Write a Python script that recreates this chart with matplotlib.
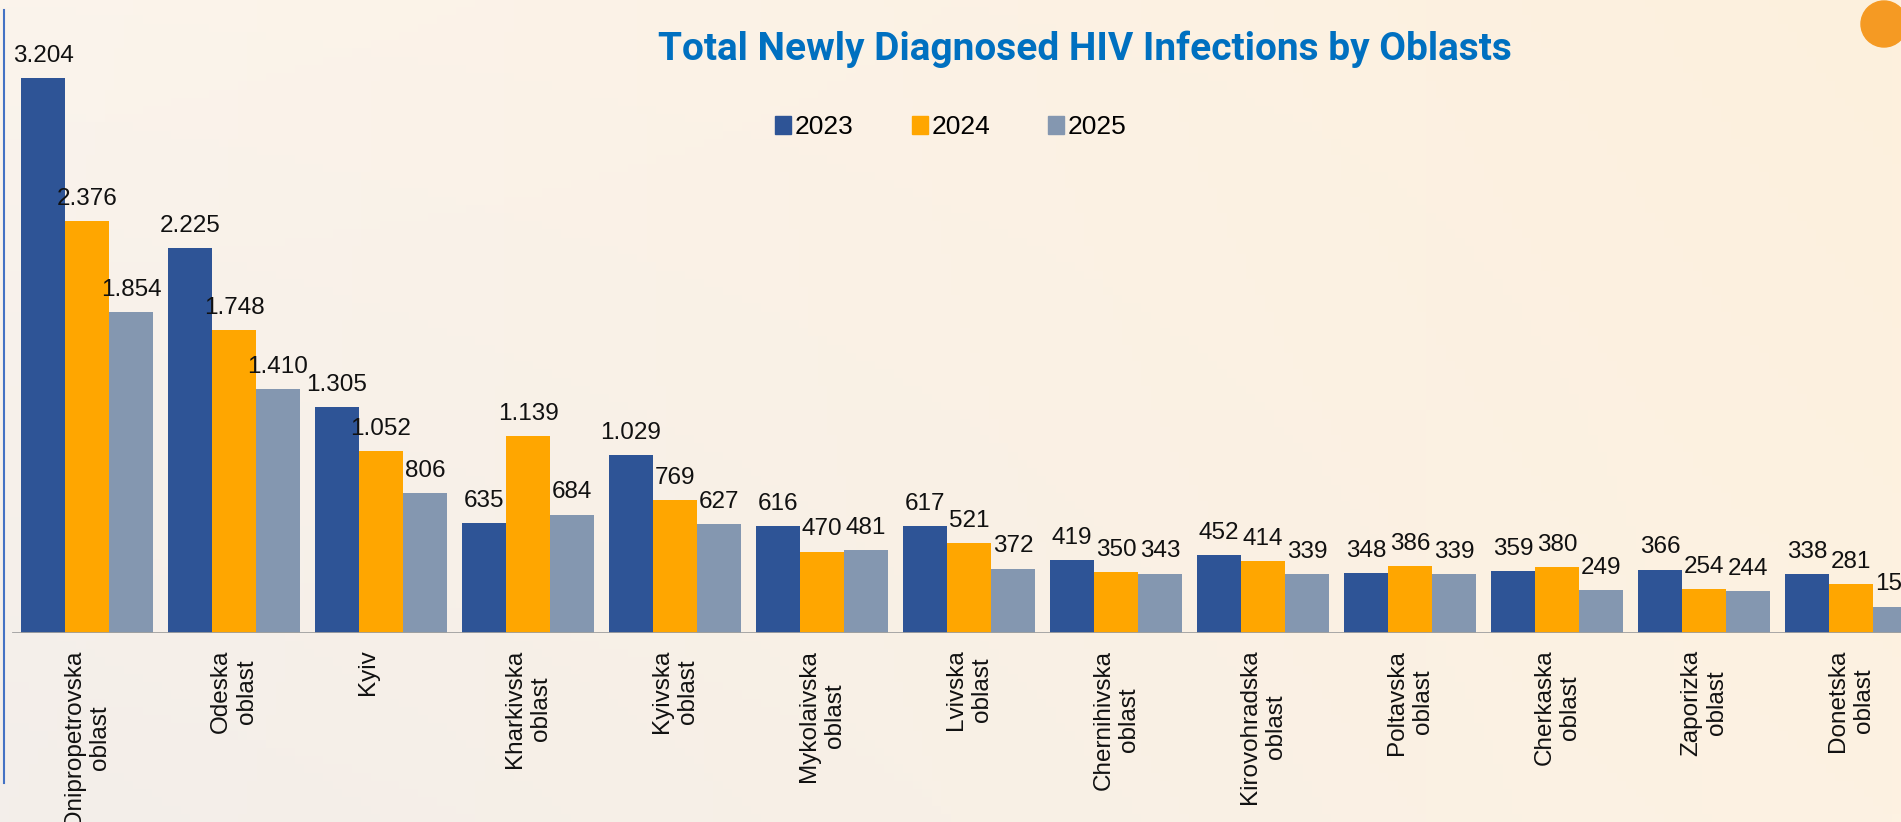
import numpy as np
import matplotlib
matplotlib.use('Agg')
import matplotlib.pyplot as plt
from matplotlib.lines import Line2D
from matplotlib.patches import Patch, Ellipse
from matplotlib.colors import to_rgb

# data
oblasts = ['Dnipropetrovska\noblast', 'Odeska\noblast', 'Kyiv\n', 'Kharkivska\noblast',
           'Kyivska\noblast', 'Mykolaivska\noblast', 'Lvivska\noblast', 'Chernihivska\noblast',
           'Kirovohradska\noblast', 'Poltavska\noblast', 'Cherkaska\noblast',
           'Zaporizka\noblast', 'Donetska\noblast']
years = ['2023', '2024', '2025']
v2023 = [3204, 2225, 1305, 635, 1029, 616, 617, 419, 452, 348, 359, 366, 338]
v2024 = [2376, 1748, 1052, 1139, 769, 470, 521, 350, 414, 386, 380, 254, 281]
v2025 = [1854, 1410, 806, 684, 627, 481, 372, 343, 339, 339, 249, 244, 153]
colors = ['#2E5496', '#FFA600', '#8497B0']

plt.rcParams['font.family'] = ['Liberation Sans', 'DejaVu Sans']

W, H = 1901, 822
fig = plt.figure(figsize=(W / 100, H / 100), dpi=100)

# background gradient
bg = fig.add_axes([0, 0, 1, 1], zorder=-5)
tl, tr = np.array(to_rgb('#FBF4EC')), np.array(to_rgb('#FDF0DD'))
bl, br = np.array(to_rgb('#F3EEEA')), np.array(to_rgb('#FDF2E2'))
gx = np.linspace(0, 1, 200)[None, :, None]
gy = np.linspace(0, 1, 100)[:, None, None]
img = (1 - gy) * ((1 - gx) * tl + gx * tr) + gy * ((1 - gx) * bl + gx * br)
bg.imshow(img, aspect='auto', extent=[0, 1, 0, 1])
bg.axis('off')

# main axes
ax = fig.add_axes([0, (H - 633) / H, 1, 633 / H])
ax.set_facecolor('none')
x = np.arange(len(oblasts))
w = 44 / 147
for k, (vals, c, yr) in enumerate(zip([v2023, v2024, v2025], colors, years)):
    bars = ax.bar(x + (k - 1) * w, vals, width=w, color=c, label=yr, zorder=2)
    for b, v in zip(bars, vals):
        ax.annotate(f'{v:,}'.replace(',', '.'), (b.get_x() + b.get_width() / 2, v),
                    xytext=(0, 8), textcoords='offset points', ha='center', va='bottom',
                    fontsize=17.5, color='#111111')

ax.set_xlim((0 - 87) / 147, (W - 87) / 147)
ax.set_ylim(0, 633 / 0.1732)
for s in ax.spines.values():
    s.set_visible(False)
ax.axhline(0, xmin=13 / W, color='#A0A0A0', lw=2, zorder=3)
ax.set_yticks([])
ax.set_xticks(x)
ax.set_xticklabels(oblasts, rotation=90, fontsize=17.5, color='#111111')
ax.tick_params(axis='x', length=0, pad=12)

# left vertical line
fig.add_artist(Line2D([4 / W, 4 / W], [(H - 783) / H, (H - 10) / H], color='#4472C4', lw=1.5))

# orange dot top right
fig.add_artist(Ellipse((1884 / W, (H - 24) / H), 46 / W, 46 / H, color='#F59A23',
                       transform=fig.transFigure))

fig.text(1085 / W, 1 - 49 / H, 'Total Newly Diagnosed HIV Infections by Oblasts',
         ha='center', va='center', color='#0070C0', fontsize=28, fontweight='bold',
         family=['Roboto', 'DejaVu Sans'])

handles = [Patch(color=c) for c in colors]
fig.legend(handles, years, loc='center', bbox_to_anchor=(951 / W, 1 - 127 / H), ncol=3,
           frameon=False, fontsize=19, handlelength=0.6, handleheight=0.65,
           handletextpad=0.15, columnspacing=2.2)

fig.savefig('out.png', dpi=100)
